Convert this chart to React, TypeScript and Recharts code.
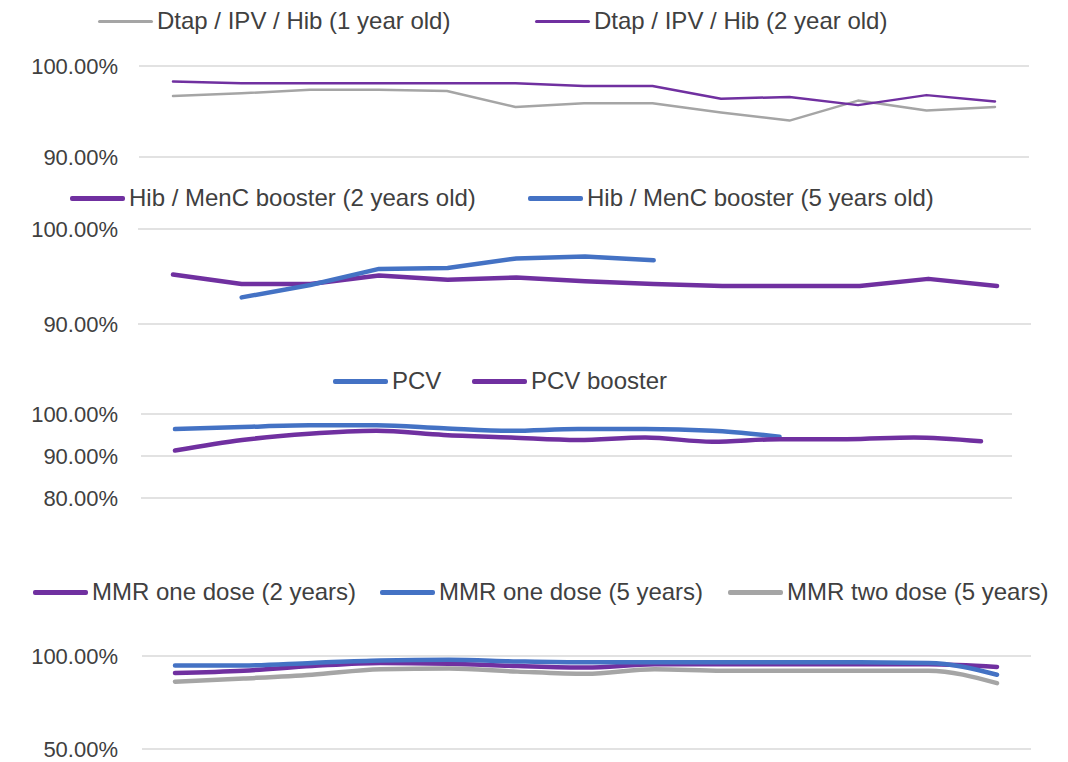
import React from "react";
import { LineChart, Line, XAxis, YAxis, CartesianGrid, Legend } from "recharts";

// 13 reporting periods (axis labels are not shown in the source)
const periods = ["1", "2", "3", "4", "5", "6", "7", "8", "9", "10", "11", "12", "13"];

// coverage, %
const dtap1yr = [96.7, 97.0, 97.4, 97.4, 97.25, 95.5, 95.9, 95.9, 94.9, 94.0, 96.2, 95.1, 95.5];
const dtap2yr = [98.3, 98.1, 98.1, 98.1, 98.1, 98.1, 97.8, 97.8, 96.4, 96.6, 95.7, 96.8, 96.1];

const hibMenC2yr = [95.2, 94.2, 94.2, 95.1, 94.65, 94.9, 94.5, 94.2, 94.0, 94.0, 94.0, 94.75, 94.0];
const hibMenC5yr = [null, 92.8, 94.1, 95.8, 95.9, 96.9, 97.1, 96.7, null, null, null, null, null];

const pcv = [96.4, 96.9, 97.3, 97.3, 96.6, 96.0, 96.4, 96.4, 96.0, 94.6, null, null, null];
const pcvBooster = [91.3, 93.8, 95.3, 96.0, 95.0, 94.4, 93.8, 94.4, 93.4, 94.0, 94.0, 94.4, 93.5];

const mmr1dose2yr = [90.9, 92.1, 94.6, 96.3, 95.8, 94.6, 93.8, 95.5, 95.5, 95.5, 95.5, 95.5, 94.1];
const mmr1dose5yr = [94.9, 94.9, 96.3, 97.6, 98.0, 97.1, 96.6, 96.6, 96.6, 96.6, 96.6, 96.3, 89.9];
const mmr2dose5yr = [86.2, 87.9, 89.9, 92.9, 93.3, 91.6, 90.4, 92.9, 92.1, 92.1, 92.1, 92.1, 85.4];

const PURPLE = "#7030A0";
const BLUE = "#4472C4";
const GRAY = "#A5A5A5";
const TEXT = "#404040";
const FONT = "'Liberation Sans', Arial, sans-serif";
const W = 1068;

type Series = { name: string; values: (number | null)[]; color: string };

type PanelProps = {
  top: number;
  height: number;
  plotTop: number;
  plotBottom: number;
  plotLeft: number;
  plotRight: number;
  pad: [number, number];
  domain: [number, number];
  ticks: number[];
  series: Series[];
  strokeWidth: number;
  curve: "linear" | "monotone";
  legendX: number[];
  legendY: number;
};

const pct = (v: number) => `${v.toFixed(2)}%`;

function Panel(p: PanelProps) {
  const data = periods.map((period, i) => {
    const row: Record<string, string | number | null> = { period };
    p.series.forEach((s) => {
      row[s.name] = s.values[i];
    });
    return row;
  });
  const legendH = p.plotTop - p.top;

  const renderLegend = (props: any) => (
    <div style={{ position: "relative", width: W, height: legendH }}>
      {(props.payload || []).map((e: any, i: number) => (
        <div
          key={e.value}
          style={{
            position: "absolute",
            left: p.legendX[i],
            top: p.legendY - p.top,
            transform: "translateY(-50%)",
            display: "flex",
            alignItems: "center",
            whiteSpace: "nowrap",
          }}
        >
          <span
            style={{
              display: "inline-block",
              width: 55,
              height: p.strokeWidth + 0.5,
              background: e.color,
              borderRadius: 2,
            }}
          />
          <span style={{ marginLeft: 4, fontSize: 24, color: TEXT, fontFamily: FONT }}>{e.value}</span>
        </div>
      ))}
    </div>
  );

  return (
    <div style={{ position: "absolute", left: 0, top: p.top }}>
      <LineChart
        width={W}
        height={p.height}
        data={data}
        margin={{ top: 0, right: W - p.plotRight, bottom: p.top + p.height - p.plotBottom, left: 0 }}
      >
        <CartesianGrid vertical={false} stroke="#d9d9d9" strokeWidth={1.4} />
        <XAxis dataKey="period" hide padding={{ left: p.pad[0], right: p.pad[1] }} />
        <YAxis
          domain={p.domain}
          ticks={p.ticks}
          interval={0}
          width={p.plotLeft}
          axisLine={false}
          tickLine={false}
          tickSize={0}
          tickMargin={p.plotLeft - 118}
          tickFormatter={pct}
          tick={{ fill: TEXT, fontSize: 22, fontFamily: FONT }}
          allowDataOverflow
        />
        <Legend
          verticalAlign="top"
          content={renderLegend}
          wrapperStyle={{ left: 0, top: 0, width: W, height: legendH }}
        />
        {p.series.map((s) => (
          <Line
            key={s.name}
            dataKey={s.name}
            name={s.name}
            type={p.curve}
            stroke={s.color}
            strokeWidth={p.strokeWidth}
            strokeLinejoin="round"
            strokeLinecap="round"
            dot={false}
            activeDot={false}
            isAnimationActive={false}
          />
        ))}
      </LineChart>
    </div>
  );
}

export default function App() {
  return (
    <div
      style={{
        position: "absolute",
        left: 0,
        top: 0,
        width: W,
        height: 762,
        overflow: "hidden",
        background: "#fff",
        fontFamily: FONT,
      }}
    >
      <Panel
        top={0}
        height={175}
        plotTop={66}
        plotBottom={157}
        plotLeft={139}
        plotRight={1029}
        pad={[34, 34]}
        domain={[90, 100]}
        ticks={[90, 100]}
        series={[
          { name: "Dtap / IPV / Hib (1 year old)", values: dtap1yr, color: GRAY },
          { name: "Dtap / IPV / Hib (2 year old)", values: dtap2yr, color: PURPLE },
        ]}
        strokeWidth={2.5}
        curve="linear"
        legendX={[98, 535]}
        legendY={21}
      />
      <Panel
        top={175}
        height={185}
        plotTop={229}
        plotBottom={324}
        plotLeft={138}
        plotRight={1031}
        pad={[35, 34]}
        domain={[90, 100]}
        ticks={[90, 100]}
        series={[
          { name: "Hib / MenC booster (2 years old)", values: hibMenC2yr, color: PURPLE },
          { name: "Hib / MenC booster (5 years old)", values: hibMenC5yr, color: BLUE },
        ]}
        strokeWidth={4.5}
        curve="linear"
        legendX={[70, 528]}
        legendY={198}
      />
      <Panel
        top={360}
        height={180}
        plotTop={414}
        plotBottom={498}
        plotLeft={141}
        plotRight={1012}
        pad={[34, 31]}
        domain={[80, 100]}
        ticks={[80, 90, 100]}
        series={[
          { name: "PCV", values: pcv, color: BLUE },
          { name: "PCV booster", values: pcvBooster, color: PURPLE },
        ]}
        strokeWidth={4.5}
        curve="monotone"
        legendX={[333, 472]}
        legendY={381}
      />
      <Panel
        top={540}
        height={222}
        plotTop={656}
        plotBottom={749}
        plotLeft={142}
        plotRight={1031}
        pad={[33, 34]}
        domain={[50, 100]}
        ticks={[50, 100]}
        series={[
          { name: "MMR one dose (2 years)", values: mmr1dose2yr, color: PURPLE },
          { name: "MMR one dose (5 years)", values: mmr1dose5yr, color: BLUE },
          { name: "MMR two dose (5 years)", values: mmr2dose5yr, color: GRAY },
        ]}
        strokeWidth={4.5}
        curve="monotone"
        legendX={[33, 380, 728]}
        legendY={592}
      />
    </div>
  );
}
